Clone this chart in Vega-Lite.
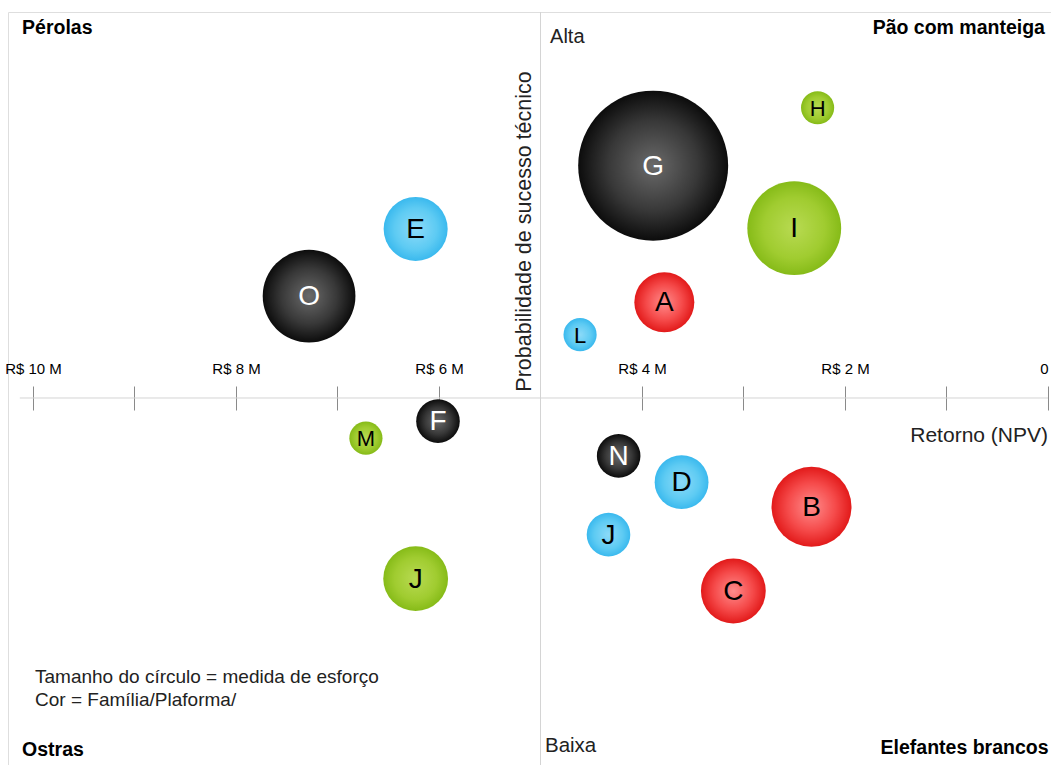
{
  "$schema": "https://vega.github.io/schema/vega-lite/v6.json",
  "autosize": "none",
  "padding": {"left": 8, "top": 12, "right": 0, "bottom": 0},
  "width": 1043,
  "height": 753,
  "background": "white",
  "config": {
    "view": {"stroke": "#dedede", "strokeWidth": 1},
    "font": "Liberation Sans",
    "text": {"font": "Liberation Sans"}
  },
  "data": {
    "values": [
      {"projeto": "G", "npv": 3.89, "prob": 80.1, "esforco": 225, "familia": "preta"},
      {"projeto": "H", "npv": 2.27, "prob": 87.6, "esforco": 11, "familia": "verde"},
      {"projeto": "I", "npv": 2.50, "prob": 72.0, "esforco": 88, "familia": "verde"},
      {"projeto": "E", "npv": 6.23, "prob": 71.9, "esforco": 41, "familia": "azul"},
      {"projeto": "O", "npv": 7.28, "prob": 63.2, "esforco": 86, "familia": "preta"},
      {"projeto": "A", "npv": 3.78, "prob": 62.4, "esforco": 36, "familia": "vermelha"},
      {"projeto": "L", "npv": 4.61, "prob": 58.2, "esforco": 11, "familia": "azul"},
      {"projeto": "F", "npv": 6.01, "prob": 47.0, "esforco": 19, "familia": "preta"},
      {"projeto": "M", "npv": 6.72, "prob": 44.8, "esforco": 11, "familia": "verde"},
      {"projeto": "N", "npv": 4.23, "prob": 42.5, "esforco": 19, "familia": "preta"},
      {"projeto": "D", "npv": 3.61, "prob": 39.1, "esforco": 29, "familia": "azul"},
      {"projeto": "B", "npv": 2.33, "prob": 35.9, "esforco": 64, "familia": "vermelha"},
      {"projeto": "J", "npv": 4.33, "prob": 32.3, "esforco": 19, "familia": "azul"},
      {"projeto": "J", "npv": 6.23, "prob": 26.6, "esforco": 42, "familia": "verde"},
      {"projeto": "C", "npv": 3.10, "prob": 25.0, "esforco": 42, "familia": "vermelha"}
    ]
  },
  "encoding": {
    "x": {
      "field": "npv", "type": "quantitative", "title": null,
      "scale": {"domain": [-0.0296, 10.2463], "reverse": true, "nice": false, "zero": false},
      "axis": {
        "orient": "top", "offset": -398, "domain": false, "grid": false,
        "values": [0, 1, 2, 3, 4, 5, 6, 7, 8, 9, 10],
        "tickSize": 24, "tickColor": "#8a8a8a", "tickWidth": 1,
        "labelExpr": "datum.value == 0 ? '0' : (datum.value % 2 == 0 ? 'R$ ' + datum.value + ' M' : '')",
        "labelAlign": {"condition": {"test": "datum.value == 0", "value": "right"}, "value": "center"},
        "labelFont": "Liberation Sans", "labelFontSize": 15, "labelColor": "#000000",
        "labelPadding": 10, "labelFlush": false, "labelOverlap": false, "labelBound": false
      }
    },
    "y": {
      "field": "prob", "type": "quantitative", "title": null,
      "scale": {"domain": [2.46, 100], "nice": false, "zero": false},
      "axis": null
    }
  },
  "layer": [
    {
      "transform": [{"filter": "datum.projeto == 'G'"}],
      "mark": {"type": "rule", "color": "#d4d4d4", "strokeWidth": 1},
      "encoding": {"x": {"datum": 5, "type": "quantitative"}, "y": null}
    },
    {
      "transform": [{"filter": "datum.projeto == 'G'"}],
      "mark": {"type": "rule", "color": "#d4d4d4", "strokeWidth": 1},
      "encoding": {
        "x": {"datum": 10.13, "type": "quantitative"},
        "x2": {"datum": 0},
        "y": {"datum": 50, "type": "quantitative"}
      }
    },
    {
      "transform": [{"filter": "datum.familia == 'preta'"}],
      "mark": {"type": "circle", "opacity": 1,
        "fill": {"gradient": "radial", "x1": 0.5, "y1": 0.5, "r1": 0, "x2": 0.5, "y2": 0.5, "r2": 0.5,
          "stops": [{"offset": 0, "color": "#6a6a6a"}, {"offset": 0.6, "color": "#383838"}, {"offset": 1, "color": "#0c0c0c"}]}},
      "encoding": {
        "size": {"field": "esforco", "type": "quantitative", "legend": null,
          "scale": {"type": "linear", "domain": [0, 225], "range": [0, 22500], "zero": true, "nice": false}}
      }
    },
    {
      "transform": [{"filter": "datum.familia == 'verde'"}],
      "mark": {"type": "circle", "opacity": 1,
        "fill": {"gradient": "radial", "x1": 0.5, "y1": 0.5, "r1": 0, "x2": 0.5, "y2": 0.5, "r2": 0.5,
          "stops": [{"offset": 0, "color": "#b8da52"}, {"offset": 0.65, "color": "#a0cc30"}, {"offset": 1, "color": "#86bb18"}]}},
      "encoding": {"size": {"field": "esforco", "type": "quantitative", "legend": null}}
    },
    {
      "transform": [{"filter": "datum.familia == 'azul'"}],
      "mark": {"type": "circle", "opacity": 1,
        "fill": {"gradient": "radial", "x1": 0.5, "y1": 0.5, "r1": 0, "x2": 0.5, "y2": 0.5, "r2": 0.5,
          "stops": [{"offset": 0, "color": "#8cdaf8"}, {"offset": 0.65, "color": "#5ecbf3"}, {"offset": 1, "color": "#3ab9ee"}]}},
      "encoding": {"size": {"field": "esforco", "type": "quantitative", "legend": null}}
    },
    {
      "transform": [{"filter": "datum.familia == 'vermelha'"}],
      "mark": {"type": "circle", "opacity": 1,
        "fill": {"gradient": "radial", "x1": 0.5, "y1": 0.5, "r1": 0, "x2": 0.5, "y2": 0.5, "r2": 0.5,
          "stops": [{"offset": 0, "color": "#ff8c8c"}, {"offset": 0.6, "color": "#f54a4a"}, {"offset": 1, "color": "#e21a1a"}]}},
      "encoding": {"size": {"field": "esforco", "type": "quantitative", "legend": null}}
    },
    {
      "transform": [{"filter": "datum.familia == 'preta'"}],
      "mark": {"type": "text", "color": "#ffffff", "fontSize": 28, "align": "center", "baseline": "middle", "dy": 1},
      "encoding": {"text": {"field": "projeto"}}
    },
    {
      "transform": [{"filter": "datum.familia != 'preta' && datum.esforco >= 15"}],
      "mark": {"type": "text", "color": "#000000", "fontSize": 28, "align": "center", "baseline": "middle", "dy": 1},
      "encoding": {"text": {"field": "projeto"}}
    },
    {
      "transform": [{"filter": "datum.familia != 'preta' && datum.esforco < 15"}],
      "mark": {"type": "text", "color": "#000000", "fontSize": 22, "align": "center", "baseline": "middle", "dy": 1},
      "encoding": {"text": {"field": "projeto"}}
    },
    {
      "transform": [{"filter": "datum.projeto == 'G'"}],
      "mark": {"type": "text", "fontSize": 19.5, "fontWeight": "bold", "align": "left", "baseline": "middle", "color": "#000000"},
      "encoding": {"x": {"datum": 10.108, "type": "quantitative"}, "y": {"datum": 97.93, "type": "quantitative"}, "text": {"value": "Pérolas"}}
    },
    {
      "transform": [{"filter": "datum.projeto == 'G'"}],
      "mark": {"type": "text", "fontSize": 19.5, "fontWeight": "bold", "align": "right", "baseline": "middle", "color": "#000000"},
      "encoding": {"x": {"datum": 0.03, "type": "quantitative"}, "y": {"datum": 97.93, "type": "quantitative"}, "text": {"value": "Pão com manteiga"}}
    },
    {
      "transform": [{"filter": "datum.projeto == 'G'"}],
      "mark": {"type": "text", "fontSize": 19.5, "fontWeight": "bold", "align": "left", "baseline": "middle", "color": "#000000"},
      "encoding": {"x": {"datum": 10.108, "type": "quantitative"}, "y": {"datum": 4.40, "type": "quantitative"}, "text": {"value": "Ostras"}}
    },
    {
      "transform": [{"filter": "datum.projeto == 'G'"}],
      "mark": {"type": "text", "fontSize": 19.5, "fontWeight": "bold", "align": "right", "baseline": "middle", "color": "#000000"},
      "encoding": {"x": {"datum": -0.005, "type": "quantitative"}, "y": {"datum": 4.66, "type": "quantitative"}, "text": {"value": "Elefantes brancos"}}
    },
    {
      "transform": [{"filter": "datum.projeto == 'G'"}],
      "mark": {"type": "text", "fontSize": 20, "align": "left", "baseline": "middle", "color": "#222222"},
      "encoding": {"x": {"datum": 4.906, "type": "quantitative"}, "y": {"datum": 96.76, "type": "quantitative"}, "text": {"value": "Alta"}}
    },
    {
      "transform": [{"filter": "datum.projeto == 'G'"}],
      "mark": {"type": "text", "fontSize": 20.5, "align": "left", "baseline": "middle", "color": "#222222"},
      "encoding": {"x": {"datum": 4.956, "type": "quantitative"}, "y": {"datum": 4.92, "type": "quantitative"}, "text": {"value": "Baixa"}}
    },
    {
      "transform": [{"filter": "datum.projeto == 'G'"}],
      "mark": {"type": "text", "fontSize": 21, "align": "right", "baseline": "middle", "color": "#222222"},
      "encoding": {"x": {"datum": 0, "type": "quantitative"}, "y": {"datum": 45.08, "type": "quantitative"}, "text": {"value": "Retorno (NPV)"}}
    },
    {
      "transform": [{"filter": "datum.projeto == 'G'"}],
      "mark": {"type": "text", "fontSize": 21.5, "angle": 270, "align": "center", "baseline": "middle", "color": "#222222"},
      "encoding": {"x": {"datum": 5.153, "type": "quantitative"}, "y": {"datum": 71.57, "type": "quantitative"}, "text": {"value": "Probabilidade de sucesso técnico"}}
    },
    {
      "transform": [{"filter": "datum.projeto == 'G'"}],
      "mark": {"type": "text", "fontSize": 19, "align": "left", "baseline": "middle", "color": "#222222"},
      "encoding": {"x": {"datum": 9.98, "type": "quantitative"}, "y": {"datum": 13.86, "type": "quantitative"}, "text": {"value": "Tamanho do círculo = medida de esforço"}}
    },
    {
      "transform": [{"filter": "datum.projeto == 'G'"}],
      "mark": {"type": "text", "fontSize": 19, "align": "left", "baseline": "middle", "color": "#222222"},
      "encoding": {"x": {"datum": 9.98, "type": "quantitative"}, "y": {"datum": 10.88, "type": "quantitative"}, "text": {"value": "Cor = Família/Plaforma/"}}
    }
  ]
}
